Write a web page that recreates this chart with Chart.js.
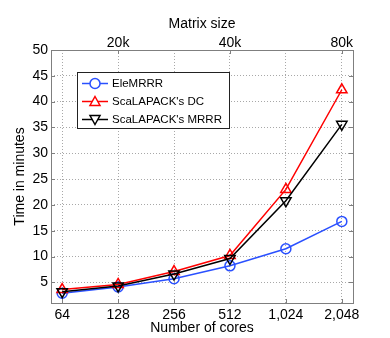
<!DOCTYPE html>
<html>
<head>
<meta charset="utf-8">
<script src="https://cdn.jsdelivr.net/npm/chart.js@4/dist/chart.umd.min.js"></script>
<style>
  html, body { margin: 0; padding: 0; background: #fff; }
  #wrap { width: 390px; height: 338px; }
</style>
</head>
<body>
<div id="wrap"><canvas id="chart"></canvas></div>
<script>
// data
const coreLabels = ["64", "128", "256", "512", "1,024", "2,048"];
const matrixPos = [1, 3, 5];
const matrixLabels = ["20k", "40k", "80k"];
const eleMRRR = [2.9, 4.1, 5.7, 8.2, 11.5, 16.8];
const scaDC = [3.6, 4.6, 7.1, 10.2, 23.0, 42.3];
const scaMRRR = [3.2, 4.3, 6.6, 9.6, 20.8, 35.6];
const yTicks = [5, 10, 15, 20, 25, 30, 35, 40, 45, 50];

const FONT = "'Liberation Sans', Helvetica, Arial, sans-serif";

const toPoints = arr => arr.map((v, i) => ({ x: i, y: v }));

// grey box round the plot + little inward ticks, legend in the corner
const boxPlugin = {
    id: "box",
    beforeDatasetsDraw(chart) {
        const { ctx, chartArea: a, scales } = chart;
        ctx.save();
        ctx.strokeStyle = "#7f7f7f";
        ctx.lineWidth = 1;
        ctx.beginPath();
        yTicks.forEach(v => {
            const y = Math.round(scales.y.getPixelForValue(v)) + 0.5;
            ctx.moveTo(a.left, y); ctx.lineTo(a.left + 4, y);
            ctx.moveTo(a.right, y); ctx.lineTo(a.right - 4, y);
        });
        coreLabels.forEach((l, i) => {
            const x = Math.round(scales.x.getPixelForValue(i)) + 0.5;
            ctx.moveTo(x, a.bottom); ctx.lineTo(x, a.bottom - 4);
        });
        matrixPos.forEach(p => {
            const x = Math.round(scales.x2.getPixelForValue(p)) + 0.5;
            ctx.moveTo(x, a.top); ctx.lineTo(x, a.top + 4);
        });
        ctx.stroke();
        ctx.strokeRect(Math.round(a.left) + 0.5, Math.round(a.top) + 0.5,
            Math.round(a.right - a.left), Math.round(a.bottom - a.top));
        ctx.restore();
    },
    afterDraw(chart) {
        const ctx = chart.ctx;
        const bx = 77.5, by = 72.5, bw = 152, bh = 56;
        ctx.save();
        ctx.fillStyle = "#fff";
        ctx.fillRect(bx, by, bw, bh);
        ctx.strokeStyle = "#222";
        ctx.lineWidth = 1;
        ctx.strokeRect(bx, by, bw, bh);
        ctx.font = "11.5px " + FONT;
        ctx.textBaseline = "middle";
        chart.data.datasets.forEach((ds, i) => {
            const y = 83.5 + i * 18;
            ctx.strokeStyle = ds.borderColor;
            ctx.lineWidth = 1.5;
            ctx.beginPath();
            ctx.moveTo(82, y); ctx.lineTo(108, y);
            ctx.stroke();
            ctx.beginPath();
            const r = 5, cx = 95;
            if (ds.pointStyle === "circle") {
                ctx.arc(cx, y, r, 0, Math.PI * 2);
            } else {
                const s = ds.pointRotation ? -1 : 1;
                ctx.moveTo(cx, y - s * r);
                ctx.lineTo(cx + r, y + s * r * 0.8);
                ctx.lineTo(cx - r, y + s * r * 0.8);
                ctx.closePath();
            }
            ctx.fillStyle = "#fff";
            ctx.fill();
            ctx.stroke();
            ctx.fillStyle = "#000";
            ctx.fillText(ds.label, 112, y + 0.5);
        });
        ctx.restore();
    }
};

new Chart(document.getElementById("chart"), {
    type: "line",
    data: {
        datasets: [
            {
                label: "EleMRRR",
                data: toPoints(eleMRRR),
                borderColor: "#2a50ff",
                pointStyle: "circle",
                pointRadius: 5,
                order: 3
            },
            {
                label: "ScaLAPACK's DC",
                data: toPoints(scaDC),
                borderColor: "#ff0000",
                pointStyle: "triangle",
                pointRadius: 6,
                order: 2
            },
            {
                label: "ScaLAPACK's MRRR",
                data: toPoints(scaMRRR),
                borderColor: "#000000",
                pointStyle: "triangle",
                pointRotation: 180,
                pointRadius: 6,
                order: 1
            }
        ].map(d => Object.assign({
            borderWidth: 1.5,
            pointBorderWidth: 1.5,
            pointBackgroundColor: "rgba(0,0,0,0)",
            pointBorderColor: d.borderColor,
            tension: 0,
            fill: false
        }, d))
    },
    options: {
        responsive: true,
        maintainAspectRatio: false,
        animation: false,
        layout: { padding: { left: 0, right: 37, top: 0, bottom: 0 } },
        plugins: {
            legend: { display: false },
            tooltip: { enabled: false }
        },
        scales: {
            x: {
                type: "linear",
                position: "bottom",
                min: -0.2,
                max: 5.2,
                afterBuildTicks: s => { s.ticks = coreLabels.map((l, i) => ({ value: i })); },
                afterFit: s => { s.height = 35; },
                ticks: {
                    callback: v => coreLabels[v],
                    color: "#000",
                    font: { family: FONT, size: 14 },
                    padding: 4,
                    maxRotation: 0,
                    autoSkip: false
                },
                grid: { color: "#a8a8a8", drawTicks: false, lineWidth: 1 },
                border: { display: false, dash: [1, 2] },
                title: {
                    display: true,
                    text: "Number of cores",
                    color: "#000",
                    font: { family: FONT, size: 14 },
                    padding: { top: 0, bottom: 1 }
                }
            },
            x2: {
                type: "linear",
                position: "top",
                min: -0.2,
                max: 5.2,
                afterBuildTicks: s => { s.ticks = matrixPos.map(p => ({ value: p })); },
                afterFit: s => { s.height = 50; },
                ticks: {
                    callback: v => matrixLabels[matrixPos.indexOf(v)],
                    color: "#000",
                    font: { family: FONT, size: 14 },
                    padding: -2,
                    maxRotation: 0,
                    autoSkip: false
                },
                grid: { display: false, drawTicks: false },
                border: { display: false },
                title: {
                    display: true,
                    text: "Matrix size",
                    color: "#000",
                    font: { family: FONT, size: 14 },
                    padding: { top: 16, bottom: 0 }
                }
            },
            y: {
                min: 1,
                max: 50,
                afterBuildTicks: s => { s.ticks = yTicks.map(v => ({ value: v })); },
                afterFit: s => { s.width = 51; },
                ticks: {
                    color: "#000",
                    font: { family: FONT, size: 14 },
                    padding: 3
                },
                grid: { color: "#a8a8a8", drawTicks: false, lineWidth: 1 },
                border: { display: false, dash: [1, 2] },
                title: {
                    display: true,
                    text: "Time in minutes",
                    color: "#000",
                    font: { family: FONT, size: 14 },
                    padding: { top: 12, bottom: 0 }
                }
            }
        }
    },
    plugins: [boxPlugin]
});
</script>
</body>
</html>
